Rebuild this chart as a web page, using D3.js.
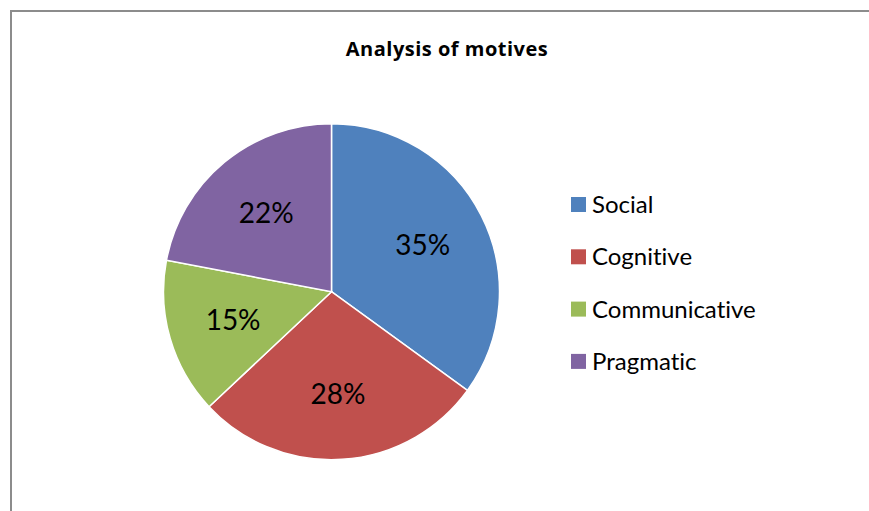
<!DOCTYPE html>
<html>
<head>
<meta charset="utf-8">
<script src="https://cdn.jsdelivr.net/npm/d3@7"></script>
<style>
  html, body { margin: 0; padding: 0; background: #fff; }
  svg { display: block; }
  text { font-variant-ligatures: none; font-feature-settings: "liga" 0; }
</style>
</head>
<body>
<svg id="chart"></svg>
<script>
const categories = ['Social', 'Cognitive', 'Communicative', 'Pragmatic'];
const values = [35, 28, 15, 22];
const colors = ['#4f81bd', '#c0504d', '#9bbb59', '#8064a2'];

const width = 869, height = 511;
const cx = 331.5, cy = 291.7, radius = 168;

const svg = d3.select('#chart')
    .attr('width', width)
    .attr('height', height);

// chart frame (only top and left edges visible in crop)
svg.append('path')
    .attr('d', `M11,${height} L11,11 L${width},11`)
    .attr('fill', 'none')
    .attr('stroke', '#8c8c8c')
    .attr('stroke-width', 2);

svg.append('text')
    .attr('x', 447)
    .attr('y', 56)
    .attr('text-anchor', 'middle')
    .attr('font-family', '"Open Sans", sans-serif')
    .attr('font-weight', 'bold')
    .attr('font-size', 20)
    .attr('letter-spacing', 0.5)
    .text('Analysis of motives');

const data = categories.map((c, i) => ({name: c, value: values[i]}));
const pie = d3.pie().sort(null).value(d => d.value);
const arc = d3.arc().innerRadius(0).outerRadius(radius);
const labelArc = d3.arc().innerRadius(radius * 0.61).outerRadius(radius * 0.61);
const total = d3.sum(values);

const g = svg.append('g')
    .attr('transform', `translate(${cx},${cy})`);

const arcs = pie(data);

g.selectAll('path')
    .data(arcs)
    .join('path')
    .attr('d', arc)
    .attr('fill', (d, i) => colors[i])
    .attr('stroke', '#fff')
    .attr('stroke-width', 1.5);

g.selectAll('text')
    .data(arcs)
    .join('text')
    .attr('transform', d => `translate(${labelArc.centroid(d)})`)
    .attr('dy', '0.36em')
    .attr('text-anchor', 'middle')
    .attr('font-family', 'Lato, sans-serif')
    .attr('font-size', 28)
    .attr('fill', '#000')
    .text(d => Math.round(d.data.value / total * 100) + '%');

// legend
const legend = svg.append('g')
    .attr('transform', 'translate(571,197)');

const item = legend.selectAll('g')
    .data(data)
    .join('g')
    .attr('transform', (d, i) => `translate(0,${i * 52.3})`);

item.append('rect')
    .attr('width', 15)
    .attr('height', 15)
    .attr('fill', (d, i) => colors[i]);

item.append('text')
    .attr('x', 21)
    .attr('y', 7.5)
    .attr('dy', '0.36em')
    .attr('font-family', 'Lato, sans-serif')
    .attr('font-size', 24)
    .attr('fill', '#000')
    .text(d => d.name);
</script>
</body>
</html>
